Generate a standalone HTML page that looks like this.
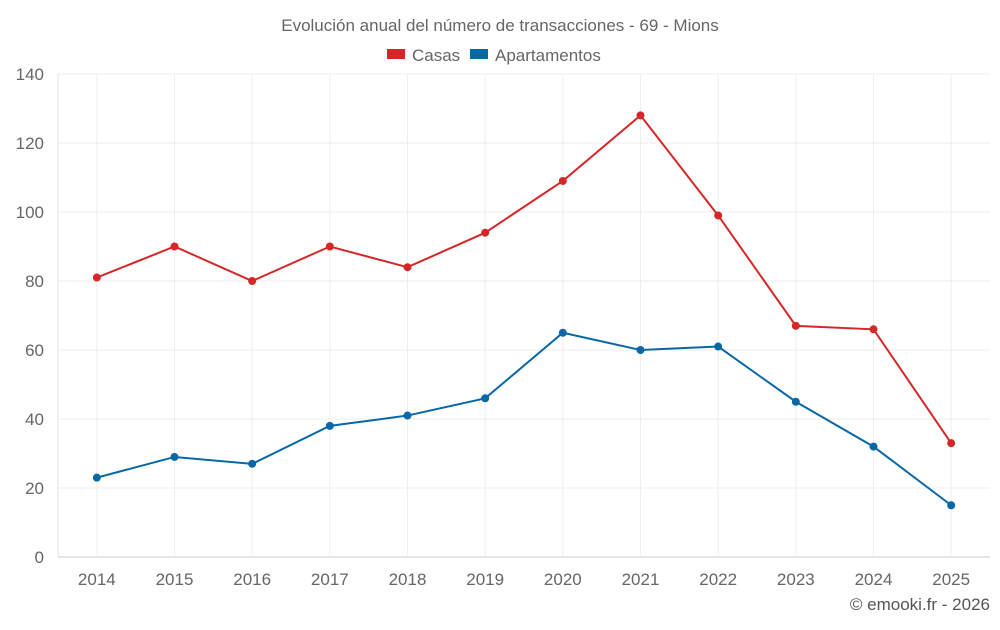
<!DOCTYPE html>
<html><head><meta charset="utf-8"><style>
html,body{margin:0;padding:0;background:#fff;}
svg text{font-family:"Liberation Sans",sans-serif;}
</style></head><body>
<svg id="chart" width="1000" height="625" xmlns="http://www.w3.org/2000/svg">
<text x="500" y="31" text-anchor="middle" font-size="17" fill="#666">Evolución anual del número de transacciones - 69 - Mions</text>
<g>
<g><rect x="387" y="49" width="18" height="10" fill="#d62728"/><text x="412" y="61" font-size="17" fill="#666">Casas</text></g>
<g><rect x="470" y="49" width="18" height="10" fill="#0868a6"/><text x="495" y="61" font-size="17" fill="#666">Apartamentos</text></g>
</g>
<g id="grid"></g>
<g id="axes"></g>
<g id="series"></g>
<text x="990" y="610" text-anchor="end" font-size="17" fill="#555">© emooki.fr - 2026</text>
</svg>
<script>
const categories=["2014","2015","2016","2017","2018","2019","2020","2021","2022","2023","2024","2025"];
const casas=[81,90,80,90,84,94,109,128,99,67,66,33];
const apartamentos=[23,29,27,38,41,46,65,60,61,45,32,15];
const yTicks=[0,20,40,60,80,100,120,140];
const NS="http://www.w3.org/2000/svg";
const L=58,R=990,T=74,B=557,yMax=140;
const bw=(R-L)/categories.length;
const x=i=>L+bw*(i+0.5);
const y=v=>B-(B-T)*v/yMax;
function mk(tag,attrs,parent){const e=document.createElementNS(NS,tag);for(const k in attrs)e.setAttribute(k,attrs[k]);parent.appendChild(e);return e;}
const grid=document.getElementById('grid'),axes=document.getElementById('axes'),series=document.getElementById('series');
yTicks.forEach(t=>{
  const l=mk('line',{x1:L,x2:R,y1:y(t),y2:y(t),stroke:t===0?'#ccc':'#eee'},grid);
  
  
  const tx=mk('text',{x:44,y:y(t)+6,'text-anchor':'end','font-size':17,fill:'#666'},axes);
  tx.textContent=t;
  
  
});
const ax=mk('line',{x1:L,x2:L,y1:T,y2:B,stroke:'#e6e6e6'},grid);


categories.forEach((c,i)=>{
  const l=mk('line',{x1:x(i),x2:x(i),y1:T,y2:B,stroke:'#eee'},grid);
  
  
  const tx=mk('text',{x:x(i),y:585,'text-anchor':'middle','font-size':17,fill:'#666'},axes);
  tx.textContent=c;
  
  
});
function draw(vals,color,name){
  const p=mk('polyline',{points:vals.map((v,i)=>x(i)+','+y(v)).join(' '),fill:'none',stroke:color,'stroke-width':2},series);
  
  
  vals.forEach((v,i)=>{
    const c=mk('circle',{cx:x(i),cy:y(v),r:4,fill:color},series);
    
    
  });
}
draw(casas,'#d62728','casas');
draw(apartamentos,'#0868a6','apartamentos');
</script>
</body></html>
